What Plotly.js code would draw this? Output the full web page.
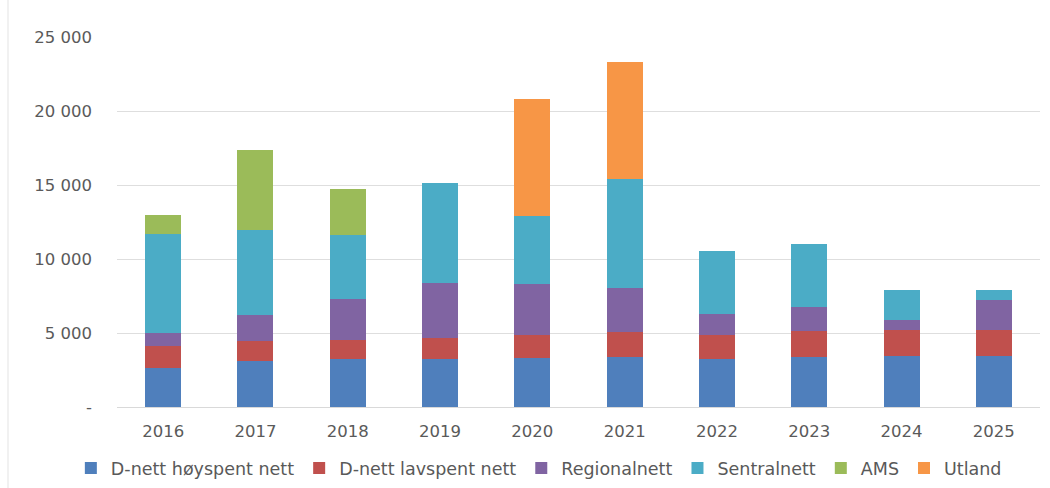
<!DOCTYPE html>
<html>
<head>
<meta charset="utf-8">
<script src="https://cdn.plot.ly/plotly-3.0.1.min.js"></script>
<style>
html,body{margin:0;padding:0;background:#fff;}
#chart{width:1050px;height:488px;}
</style>
</head>
<body>
<div id="chart"></div>
<script>
const years = ["2016","2017","2018","2019","2020","2021","2022","2023","2024","2025"];
const dnettHoy   = [2660, 3110, 3220, 3220, 3340, 3380, 3270, 3400, 3450, 3450];
const dnettLav   = [1460, 1350, 1310, 1470, 1500, 1690, 1570, 1740, 1750, 1750];
const regional   = [ 910, 1740, 2790, 3720, 3500, 3000, 1420, 1640,  680, 2030];
const sentral    = [6690, 5760, 4280, 6750, 4570, 7360, 4280, 4210, 2030,  680];
const ams        = [1230, 5400, 3110,    0,    0,    0,    0,    0,    0,    0];
const utland     = [   0,    0,    0,    0, 7880, 7880,    0,    0,    0,    0];
const seriesNames = ["D-nett høyspent nett","D-nett lavspent nett","Regionalnett","Sentralnett","AMS","Utland"];
const seriesColors = ["#4f7fbc","#c0504d","#8064a2","#4bacc6","#9bbb59","#f79646"];
const yTickVals = [0, 5000, 10000, 15000, 20000, 25000];
const yTickText = ["-", "5 000", "10 000", "15 000", "20 000", "25 000"];

const seriesData = [dnettHoy, dnettLav, regional, sentral, ams, utland];
const traces = seriesData.map((vals, i) => ({
  type: "bar",
  name: seriesNames[i],
  x: years,
  y: vals,
  marker: {color: seriesColors[i]},
  hoverinfo: "x+y+name"
}));

const layout = {
  width: 1050,
  height: 488,
  barmode: "stack",
  bargap: 0.61,
  paper_bgcolor: "#ffffff",
  plot_bgcolor: "#ffffff",
  margin: {l: 117, r: 10, t: 37, b: 81, pad: 0, autoexpand: false},
  font: {family: "DejaVu Sans, sans-serif", size: 16, color: "#595959"},
  xaxis: {
    type: "category",
    showgrid: false,
    showline: true,
    linecolor: "#d9d9d9",
    linewidth: 1,
    ticks: "",
    tickfont: {size: 16.5, color: "#5a5a5a"},
    ticklabelstandoff: 9
  },
  yaxis: {
    range: [0, 25000],
    tickvals: yTickVals,
    ticktext: yTickText,
    showgrid: true,
    gridcolor: "#dedede",
    gridwidth: 1,
    zeroline: false,
    showline: false,
    ticks: "",
    tickfont: {size: 16.5, color: "#5a5a5a"},
    ticklabelstandoff: 24
  },
  legend: {
    orientation: "h",
    x: -0.050,
    xanchor: "left",
    y: -0.165,
    yanchor: "middle",
    traceorder: "normal",
    font: {size: 17.5, color: "#595959"},
    itemwidth: 30,
    tracegroupgap: 0
  },
  shapes: [{
    type: "line", xref: "paper", yref: "paper",
    x0: -0.1181, x1: -0.1181, y0: -0.219, y1: 1.1,
    line: {color: "#e3e3e3", width: 1}
  }],
  showlegend: true
};

Plotly.newPlot("chart", traces, layout, {displayModeBar: false, staticPlot: true});
</script>
</body>
</html>
